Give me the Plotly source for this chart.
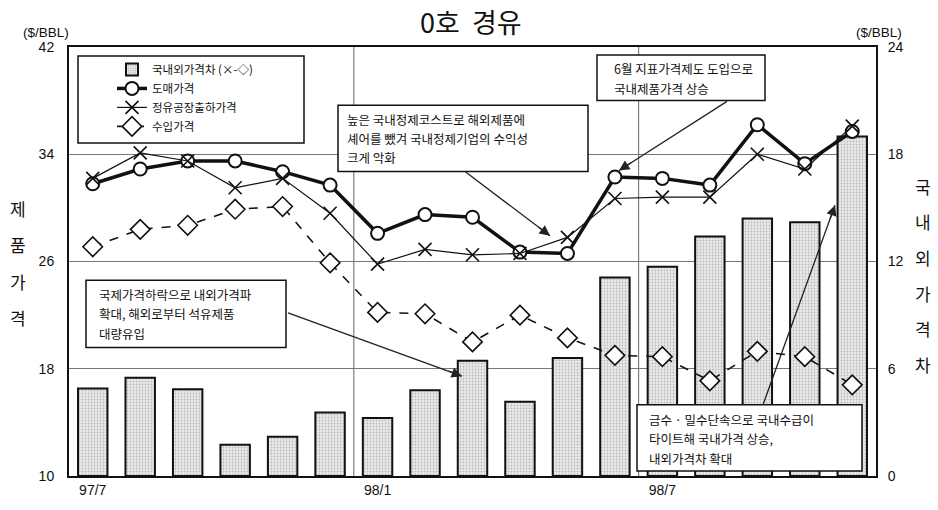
import math
import plotly.graph_objects as go

months = ["97/7", "97/8", "97/9", "97/10", "97/11", "97/12",
          "98/1", "98/2", "98/3", "98/4", "98/5", "98/6",
          "98/7", "98/8", "98/9", "98/10", "98/11"]
price_gap = [4.9, 5.5, 4.85, 1.75, 2.2, 3.55, 3.25, 4.8, 6.45, 4.15, 6.6,
             11.1, 11.7, 13.4, 14.4, 14.2, 19.0]
wholesale = [31.8, 32.9, 33.5, 33.5, 32.7, 31.7, 28.1, 29.5, 29.3, 26.7, 26.6,
             32.3, 32.2, 31.7, 36.2, 33.3, 35.7]
refinery = [32.2, 34.1, 33.5, 31.5, 32.2, 29.6, 25.8, 26.9, 26.5, 26.6, 27.8,
            30.7, 30.8, 30.8, 34.0, 32.9, 36.1]
import_price = [27.1, 28.4, 28.7, 29.9, 30.1, 25.9, 22.2, 22.1, 20.0, 22.0, 20.3,
                19.0, 18.9, 17.1, 19.3, 18.9, 16.8]

left_ticks = [10, 18, 26, 34, 42]
right_ticks = [0, 6, 12, 18, 24]
x_ticks = ["97/7", "98/1", "98/7"]

FONT = "Liberation Sans, Arial, Noto Sans CJK KR, sans-serif"
KFONT = "Noto Sans CJK KR, Liberation Sans, sans-serif"

W, H = 938, 510
L, R, T, B = 69, 876, 47, 481


def px(xp):
    return (xp - L) / (R - L)


def py(yp):
    return (B - yp) / (B - T)


fig = go.Figure()

# bars on the primary (right-side) axis so the lines on the overlay draw above them
fig.add_trace(go.Bar(
    x=months, y=price_gap, yaxis="y", name="국내외가격차 (×-◇)",
    width=0.62,
    marker=dict(color="#e2e2e2", line=dict(color="#111", width=2),
                pattern=dict(shape=".", fgcolor="#8c8c8c", bgcolor="#e9e9e9",
                             size=3, solidity=0.28)),
))
fig.add_trace(go.Scatter(
    x=months, y=wholesale, yaxis="y2", name="도매가격", mode="lines+markers",
    line=dict(color="#111", width=3.5),
    marker=dict(symbol="circle", size=13, color="white",
                line=dict(color="#111", width=2)),
))
fig.add_trace(go.Scatter(
    x=months, y=refinery, yaxis="y2", name="정유공장출하가격", mode="lines+markers",
    line=dict(color="#111", width=1.2),
    marker=dict(symbol="x-thin-open", size=13, color="#111",
                line=dict(color="#111", width=1.6)),
))
fig.add_trace(go.Scatter(
    x=months, y=import_price, yaxis="y2", name="수입가격", mode="lines+markers",
    line=dict(color="#111", width=1.6, dash="dash"),
    marker=dict(symbol="diamond", size=15, color="white",
                line=dict(color="#111", width=1.6)),
))

shapes = []
# vertical grid lines at the start of 98/1 and 98/7
for xv in [5.5, 11.5]:
    shapes.append(dict(type="line", xref="x", yref="paper", x0=xv, x1=xv,
                       y0=0, y1=1, line=dict(color="#666", width=1), layer="below"))

# legend frame (legend itself drawn transparent on top)
shapes.append(dict(type="rect", xref="paper", yref="paper",
                   x0=px(78), x1=px(304), y0=py(144), y1=py(56),
                   fillcolor="white", line=dict(color="#111", width=1.5),
                   layer="above"))

boxes = [
    (86, 283, 286, 351, 11, 0, ["국제가격하락으로 내외가격파", "확대, 해외로부터 석유제품", "대량유입"]),
    (338, 106, 588, 173, 7, 0, ["높은 국내정제코스트로 해외제품에", "셰어를 뺐겨 국내정제기업의 수익성", "크게 악화"]),
    (597, 55, 765, 101, 15, 1, ["6월 지표가격제도 도입으로", "국내제품가격 상승"]),
    (637, 409, 862, 476, 10, 1, ["금수 · 밀수단속으로 국내수급이", "타이트해 국내가격 상승,", "내외가격차 확대"]),
]
annotations = []
LINE = 19.5
for x0, y0, x1, y1, pad, off, lines in boxes:
    shapes.append(dict(type="rect", xref="paper", yref="paper",
                       x0=px(x0), x1=px(x1), y0=py(y1), y1=py(y0),
                       fillcolor="white", line=dict(color="#111", width=1.5),
                       layer="above"))
    yc = (y0 + y1) / 2 + off
    n = len(lines)
    for k, txt in enumerate(lines):
        yy = yc + (k - (n - 1) / 2) * LINE
        annotations.append(dict(xref="paper", yref="paper", x=px(x0 + pad),
                                y=py(yy), xanchor="left", yanchor="middle",
                                text=txt, showarrow=False, align="left",
                                font=dict(family=KFONT, size=12.5, color="#111")))

# callout arrows: shaft as a line shape, head as a short annotation arrow
arrows = [
    (288, 316, 462, 380),
    (465, 173, 550, 238),
    (727, 102, 619, 172),
    (763, 409, 835, 207),
]
for tx, ty, hx, hy in arrows:
    shapes.append(dict(type="line", xref="paper", yref="paper",
                       x0=px(tx), y0=py(ty), x1=px(hx), y1=py(hy),
                       line=dict(color="#222", width=1.3), layer="above"))
    d = math.hypot(hx - tx, hy - ty)
    ux, uy = (tx - hx) / d, (ty - hy) / d
    annotations.append(dict(xref="paper", yref="paper", axref="pixel", ayref="pixel",
                            x=px(hx), y=py(hy), ax=ux * 16, ay=uy * 16, text="",
                            showarrow=True, arrowhead=2, arrowsize=1.6,
                            arrowwidth=1.3, arrowcolor="#222"))


def label(xp, yp, text, size, family):
    annotations.append(dict(xref="paper", yref="paper", x=px(xp), y=py(yp),
                            xanchor="center", yanchor="middle", text=text,
                            showarrow=False,
                            font=dict(family=family, size=size, color="#111")))


# title and unit labels
label(471, 21, "0호\u00a0\u00a0경유", 27, KFONT)
label(46, 32, "($/BBL)", 13.5, FONT)
label(879, 32, "($/BBL)", 13.5, FONT)
for i, ch in enumerate("제품가격"):
    label(18, 210 + 37 * i, ch, 17, KFONT)
for i, ch in enumerate("국내외가격차"):
    label(923, 188 + 36 * i, ch, 17, KFONT)

fig.update_layout(
    width=W, height=H,
    margin=dict(l=L, r=W - R, t=T, b=H - B),
    paper_bgcolor="white", plot_bgcolor="white",
    font=dict(family=FONT, size=14, color="#111"),
    showlegend=True,
    legend=dict(x=px(112), y=py(55), xanchor="left", yanchor="top",
                bgcolor="rgba(0,0,0,0)", borderwidth=0,
                font=dict(family=KFONT, size=11.5), tracegroupgap=0),
    bargap=0.38,
    xaxis=dict(type="category", range=[-0.5, 16.5], tickvals=x_ticks,
               ticktext=x_ticks, showgrid=False, showline=True, linecolor="#111",
               linewidth=2, mirror=True, ticks="", tickfont=dict(size=14)),
    yaxis=dict(range=[0, 24], tickvals=right_ticks, side="right",
               showgrid=True, gridcolor="#777", gridwidth=1, zeroline=False,
               showline=True, linecolor="#111", linewidth=2, ticks="",
               ticklabelstandoff=7, tickfont=dict(size=14)),
    yaxis2=dict(range=[10, 42], tickvals=left_ticks, overlaying="y", side="left",
                showgrid=False, zeroline=False, showline=True, linecolor="#111",
                linewidth=2, ticks="", ticklabelstandoff=10,
                tickfont=dict(size=14)),
    shapes=shapes,
    annotations=annotations,
)

fig.write_html("out.html")
